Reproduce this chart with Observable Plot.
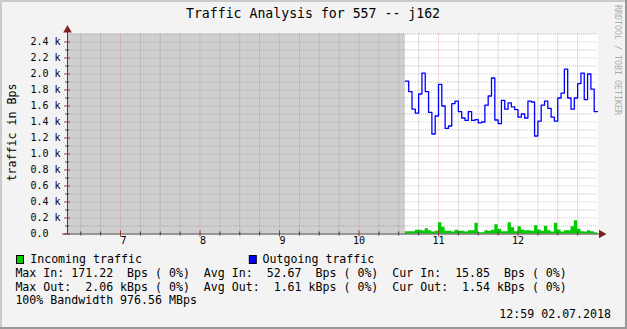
<!DOCTYPE html>
<html><head><meta charset="utf-8">
<script src="https://cdn.jsdelivr.net/npm/d3@7"></script>
<script src="https://cdn.jsdelivr.net/npm/@observablehq/plot@0.6"></script>
<style>
html,body{margin:0;padding:0;background:#F3F3F3;}
#chart svg text{font-family:"DejaVu Sans Mono",monospace;white-space:pre;}
</style></head><body><div id="chart"></div>
<script>
// ---- data ----
const title = "Traffic Analysis for 557 -- j162";
const yLabel = "traffic in Bps";
const watermark = "RRDTOOL / TOBI OETIKER";
const seriesNames = ["Incoming traffic", "Outgoing traffic"];
const seriesColors = ["#00CC00", "#0000FF"];
const startMinute = 635;      // 10:35, first sample
const stepMinutes = 2.5;      // sample spacing
const endMinute = 780;        // 13:00
const xDomain = [380, 780];   // 6:20 .. 13:00 (minutes of day)
const unknownSpan = [380, 635];
const hourTicks = [7, 8, 9, 10, 11, 12];
const yTicks = [0, 200, 400, 600, 800, 1000, 1200, 1400, 1600, 1800, 2000, 2200, 2400];
const yMax = 2500;
// incoming traffic, Bps
const incoming = [29,29,29,46,46,37,67,42,25,33,142,83,33,33,25,46,33,33,25,42,42,133,17,17,42,33,46,117,58,29,29,142,79,29,92,50,42,42,33,104,50,33,96,42,25,133,50,25,42,42,92,165,58,29,25,42,29,16];
// outgoing traffic, kBps
const outgoing = [1.91,1.78,1.56,1.51,1.75,2.01,1.78,1.52,1.25,1.475,1.87,1.60,1.32,1.35,1.63,1.66,1.53,1.45,1.42,1.53,1.42,1.43,1.39,1.40,1.61,1.725,1.95,1.425,1.38,1.67,1.56,1.64,1.59,1.555,1.46,1.50,1.45,1.66,1.65,1.225,1.41,1.61,1.66,1.57,1.46,1.41,1.70,1.76,2.06,1.70,1.56,1.70,1.88,2.01,1.68,2.00,1.81,1.53];
const legendLines = [
  "Max In: 171.22  Bps ( 0%)  Avg In:  52.67  Bps ( 0%)  Cur In:  15.85  Bps ( 0%)",
  "Max Out:  2.06 kBps ( 0%)  Avg Out:  1.61 kBps ( 0%)  Cur Out:  1.54 kBps ( 0%)",
  "100% Bandwidth 976.56 MBps"
];
const timestamp = "12:59 02.07.2018";

// ---- build table ----
const data = incoming.map((v, i) => ({t: startMinute + stepMinutes * i, inB: v, outB: outgoing[i] * 1000}));
data.push({t: endMinute, inB: incoming[incoming.length - 1], outB: outgoing[outgoing.length - 1] * 1000});

const minorX = d3.range(390, 780, 15).filter(m => m % 60 !== 0);
const minorY = d3.range(100, 2600, 200);
const majorX = hourTicks.map(h => h * 60);

const W = 627, H = 329;
const mL = 67, mR = 30, mT = 33.5, mB = 95.5;
const plotH = H - mT - mB, plotW = W - mL - mR;
const GRID = "rgba(140,140,140,0.55)";
const MGRID = "rgba(220,110,110,0.45)";
const AXIS = "#404040";
const ARROW = "#7F1F1F";

const chart = Plot.plot({
  width: W, height: H,
  marginLeft: mL, marginRight: mR, marginTop: mT, marginBottom: mB,
  style: {background: "transparent", fontFamily: "DejaVu Sans Mono", fontSize: "10px", color: "#000", overflow: "visible"},
  x: {domain: xDomain, axis: null},
  y: {domain: [0, yMax], axis: null},
  marks: [
    Plot.frame({fill: "#FFFFFF", stroke: null}),
    Plot.rect([unknownSpan], {x1: d => d[0], x2: d => d[1], y1: 0, y2: yMax, fill: "#CFCFCF"}),
    Plot.ruleX(minorX, {stroke: GRID, strokeDasharray: "1,1"}),
    Plot.ruleY(minorY, {stroke: GRID, strokeDasharray: "1,1"}),
    Plot.ruleX(majorX, {stroke: MGRID, strokeDasharray: "1,1"}),
    Plot.ruleY(yTicks.filter(d => d > 0), {stroke: MGRID, strokeDasharray: "1,1"}),
    Plot.areaY(data, {x: "t", y: "inB", curve: "step-after", fill: seriesColors[0]}),
    Plot.line(data, {x: "t", y: "outB", curve: "step-after", stroke: seriesColors[1], strokeWidth: 1.3}),
    // small tick marks on axes
    Plot.ruleX(minorX, {stroke: AXIS, insetTop: plotH - 2, insetBottom: -2}),
    Plot.ruleX(majorX, {stroke: "#B03030", insetTop: plotH - 3, insetBottom: -3}),
    Plot.ruleY(minorY.filter(d => d < yMax), {stroke: AXIS, insetLeft: -2, insetRight: plotW - 2}),
    Plot.ruleY(yTicks, {stroke: "#B03030", insetLeft: -3, insetRight: plotW - 3}),
    // axes
    Plot.ruleY([0], {stroke: AXIS, insetLeft: -5, insetRight: -3}),
    Plot.ruleX([xDomain[0]], {stroke: AXIS, insetTop: -3}),
    Plot.dot([0], {frameAnchor: "top-left", symbol: "triangle", r: 3.2, dy: -4, fill: ARROW, stroke: null}),
    Plot.dot([0], {frameAnchor: "bottom-right", symbol: "triangle", r: 3.2, dx: 4, rotate: 90, fill: ARROW, stroke: null}),
    // tick labels
    Plot.text(yTicks, {y: d => d, text: d => d === 0 ? "0.0" : (d / 1000).toFixed(1) + " k", frameAnchor: "left", dx: -37, textAnchor: "start", fontSize: 10, fill: "#000"}),
    Plot.text(hourTicks, {x: d => d * 60, text: d => String(d).padStart(2, "\u00A0"), frameAnchor: "bottom", dy: 9.5, fontSize: 10, fill: "#000"})
  ]
});

const svg = d3.select(chart);
// outer shading border
svg.insert("rect", ":first-child").attr("x", 0).attr("y", 0).attr("width", W).attr("height", H).attr("fill", "#F3F3F3");
svg.append("rect").attr("x", 0).attr("y", 0).attr("width", W).attr("height", 2).attr("fill", "#CBCBCB");
svg.append("rect").attr("x", 0).attr("y", 0).attr("width", 2).attr("height", H).attr("fill", "#CBCBCB");
svg.append("rect").attr("x", 0).attr("y", H - 2).attr("width", W).attr("height", 2).attr("fill", "#999999");
svg.append("rect").attr("x", W - 2).attr("y", 0).attr("width", 2).attr("height", H).attr("fill", "#999999");

const txt = (x, y, s, size, anchor, fill) => svg.append("text")
  .attr("x", x).attr("y", y).attr("text-anchor", anchor).attr("font-size", size)
  .attr("fill", fill || "#000").attr("xml:space", "preserve").style("white-space", "pre").text(s);

// title
txt(313, 18.3, title, 13.2, "middle");
// y label
txt(0, 0, yLabel, 11.6, "middle").attr("transform", "translate(15.5,132.5) rotate(-90)");
// watermark
txt(0, 0, watermark, 8.3, "start", "#ABABAB").attr("transform", "translate(614.5,5) rotate(90)");

// legend row 1 (series)
const legX = [[16, 30.2], [248.8, 262.6]];
seriesNames.forEach((name, i) => {
  svg.append("rect").attr("x", legX[i][0] + 0.5).attr("y", 255.5).attr("width", 7).attr("height", 8)
    .attr("fill", seriesColors[i]).attr("stroke", "#000").attr("stroke-width", 1);
  txt(legX[i][1], 262.8, name, 11.6, "start");
});
const rowY = [276.8, 290.8, 304.4];
legendLines.forEach((s, i) => txt(15.4, rowY[i], s, 11.6, "start"));
txt(611, 318.4, timestamp, 11.6, "end");

document.getElementById("chart").appendChild(chart);
</script></body></html>
